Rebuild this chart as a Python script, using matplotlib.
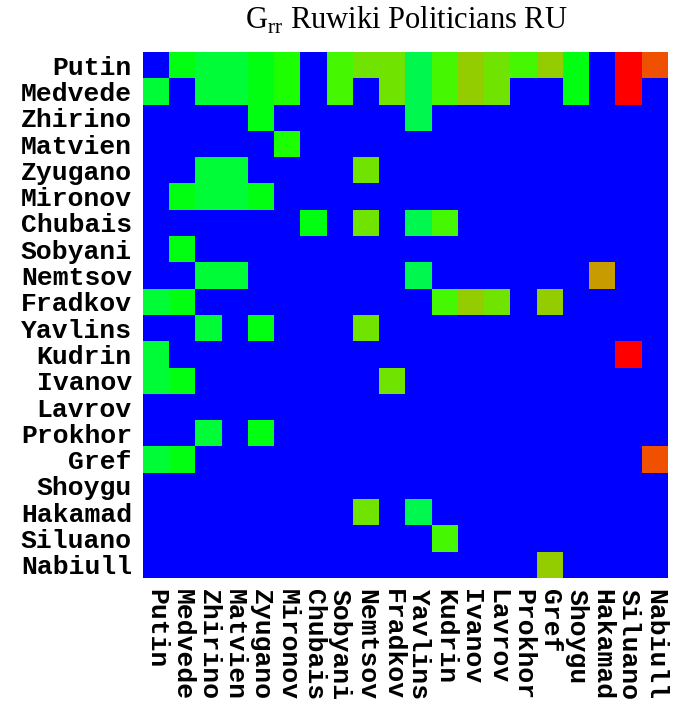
import numpy as np
import matplotlib
matplotlib.use("Agg")
import matplotlib.pyplot as plt
from matplotlib.colors import LinearSegmentedColormap, Normalize

names = ["Putin", "Medvede", "Zhirino", "Matvien", "Zyugano", "Mironov",
         "Chubais", "Sobyani", "Nemtsov", "Fradkov", "Yavlins", "Kudrin",
         "Ivanov", "Lavrov", "Prokhor", "Gref", "Shoygu", "Hakamad",
         "Siluano", "Nabiull"]

# estimated cell values (0 = background)
row_putin   = [0, .30, .20, .20, .30, .40, 0, .50, .60, .60, .10, .50, .70, .60, .50, .70, .30, 0, 1.0, .90]
row_medvede = [.20, 0, .20, .20, .30, .40, 0, .50, 0, .60, .10, .50, .70, .60, 0, 0, .30, 0, 1.0, 0]
row_zhirino = [0, 0, 0, 0, .30, 0, 0, 0, 0, 0, .10, 0, 0, 0, 0, 0, 0, 0, 0, 0]
row_matvien = [0, 0, 0, 0, 0, .40, 0, 0, 0, 0, 0, 0, 0, 0, 0, 0, 0, 0, 0, 0]
row_zyugano = [0, 0, .20, .20, 0, 0, 0, 0, .60, 0, 0, 0, 0, 0, 0, 0, 0, 0, 0, 0]
row_mironov = [0, .30, .20, .20, .30, 0, 0, 0, 0, 0, 0, 0, 0, 0, 0, 0, 0, 0, 0, 0]
row_chubais = [0, 0, 0, 0, 0, 0, .30, 0, .60, 0, .10, .50, 0, 0, 0, 0, 0, 0, 0, 0]
row_sobyani = [0, .30, 0, 0, 0, 0, 0, 0, 0, 0, 0, 0, 0, 0, 0, 0, 0, 0, 0, 0]
row_nemtsov = [0, 0, .20, .20, 0, 0, 0, 0, 0, 0, .10, 0, 0, 0, 0, 0, 0, .80, 0, 0]
row_fradkov = [.20, .30, 0, 0, 0, 0, 0, 0, 0, 0, 0, .50, .70, .60, 0, .70, 0, 0, 0, 0]
row_yavlins = [0, 0, .20, 0, .30, 0, 0, 0, .60, 0, 0, 0, 0, 0, 0, 0, 0, 0, 0, 0]
row_kudrin  = [.20, 0, 0, 0, 0, 0, 0, 0, 0, 0, 0, 0, 0, 0, 0, 0, 0, 0, 1.0, 0]
row_ivanov  = [.20, .30, 0, 0, 0, 0, 0, 0, 0, .60, 0, 0, 0, 0, 0, 0, 0, 0, 0, 0]
row_lavrov  = [0] * 20
row_prokhor = [0, 0, .20, 0, .30, 0, 0, 0, 0, 0, 0, 0, 0, 0, 0, 0, 0, 0, 0, 0]
row_gref    = [.20, .30, 0, 0, 0, 0, 0, 0, 0, 0, 0, 0, 0, 0, 0, 0, 0, 0, 0, .90]
row_shoygu  = [0] * 20
row_hakamad = [0, 0, 0, 0, 0, 0, 0, 0, .60, 0, .10, 0, 0, 0, 0, 0, 0, 0, 0, 0]
row_siluano = [0, 0, 0, 0, 0, 0, 0, 0, 0, 0, 0, .50, 0, 0, 0, 0, 0, 0, 0, 0]
row_nabiull = [0, 0, 0, 0, 0, 0, 0, 0, 0, 0, 0, 0, 0, 0, 0, .70, 0, 0, 0, 0]

rows = [row_putin, row_medvede, row_zhirino, row_matvien, row_zyugano, row_mironov,
        row_chubais, row_sobyani, row_nemtsov, row_fradkov, row_yavlins, row_kudrin,
        row_ivanov, row_lavrov, row_prokhor, row_gref, row_shoygu, row_hakamad,
        row_siluano, row_nabiull]
M = np.array(rows, dtype=float)

cmap = LinearSegmentedColormap.from_list("grr", [
    (0.0, (0/255, 245/255, 90/255)),
    (0.2, (0/255, 255/255, 45/255)),
    (0.3, (0/255, 255/255, 0/255)),
    (0.4, (40/255, 255/255, 0/255)),
    (0.5, (80/255, 245/255, 0/255)),
    (0.6, (120/255, 225/255, 0/255)),
    (0.7, (152/255, 202/255, 0/255)),
    (0.8, (205/255, 152/255, 0/255)),
    (0.9, (240/255, 80/255, 0/255)),
    (1.0, (255/255, 0/255, 0/255)),
])
cmap.set_under((0, 0, 1))
norm = Normalize(vmin=0.05, vmax=1.0)

fig = plt.figure(figsize=(6.75, 7.05), dpi=100)
ax = fig.add_axes([143/675, 1 - 578/705, 525/675, 526/705])
ax.imshow(M, cmap=cmap, norm=norm, interpolation="nearest", aspect="auto")

ax.set_xticks(range(len(names)))
ax.set_yticks(range(len(names)))
ax.set_xticklabels(names, rotation=-90, family="Liberation Mono",
                   fontweight="bold", fontsize=19)
ax.set_yticklabels(names, family="Liberation Mono", fontweight="bold", fontsize=19)
ax.tick_params(length=0, pad=8)
for lab in ax.get_xticklabels():
    lab.set_va("top")
    lab.set_ha("center")
for s in ax.spines.values():
    s.set_visible(False)

fig.text(406/675, 1 - 29/705, r"G$_{\mathregular{rr}}$ Ruwiki Politicians RU",
         ha="center", va="baseline", family="Liberation Serif", fontsize=22)

fig.savefig("out.png", dpi=100)
